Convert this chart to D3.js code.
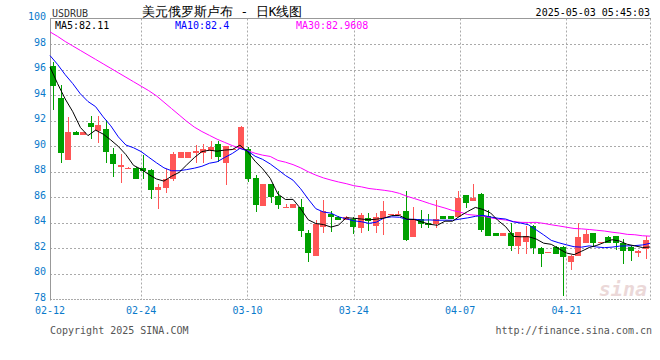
<!DOCTYPE html>
<html><head><meta charset="utf-8">
<script src="https://cdn.jsdelivr.net/npm/d3@7/dist/d3.min.js"></script>
<style>
html,body{margin:0;padding:0;background:#fff;}
svg{display:block;}
text{font-family:"DejaVu Sans Mono",monospace;}
</style></head>
<body>
<svg id="chart" width="660" height="360"></svg>
<script>
// ---------- data ----------
const startDate = "2025-02-12";
const nDays = 80;
const xTickLabels = ["02-12","02-24","03-10","03-24","04-07","04-21"];
const xTickIndex  = [0,12,26,40,54,68];
const yTicks = [78,80,82,84,86,88,90,92,94,96,98,100];

const open = [96.27,93.77,88.96,91.13,90.88,91.84,91.19,91.35,89.39,88.37,
88.30,88.32,88.32,88.14,86.58,86.73,87.41,89.10,89.10,89.47,
89.47,89.62,90.17,88.69,89.70,89.78,89.78,87.49,85.32,87.04,
86.10,85.20,85.19,85.22,83.19,81.44,83.71,84.72,84.49,84.23,
84.28,83.63,84.38,83.78,84.41,84.60,84.60,84.93,82.92,84.33,
84.00,83.94,84.54,84.54,84.49,86.18,85.72,86.26,84.50,83.19,
82.96,83.19,82.17,82.51,83.76,82.04,81.65,82.14,82.14,80.95,
81.42,82.43,83.20,82.41,82.90,82.98,82.46,82.14,81.67,81.99];
const high = [96.6,94.78,92.31,91.2,91.12,92.36,92.36,92.05,89.86,89.39,
88.36,88.35,89.31,88.2,87.04,88.22,89.57,89.55,89.55,90.09,
90.2,90.41,90.41,90.05,89.8,91.55,89.94,87.75,87.04,87.04,
86.47,85.45,85.5,85.85,83.45,84.23,85.8,84.91,84.52,84.5,
84.44,84.8,84.75,84.8,85.72,84.7,84.93,86.5,85.22,85.01,
84.68,85.79,84.56,84.56,86.5,86.2,87.04,86.3,85.0,83.2,
83.2,84.02,83.3,83.76,83.8,82.1,81.72,82.2,82.2,81.45,
83.97,83.45,83.22,82.5,82.95,83.0,82.74,82.2,81.9,82.98];
const low = [92.83,88.71,88.96,90.88,90.88,90.54,90.27,88.69,87.62,87.12,
88.28,87.46,87.46,85.87,85.09,86.34,87.3,89.10,89.10,88.71,
88.71,89.0,88.74,86.97,89.68,89.78,87.22,84.88,85.32,85.56,
85.09,85.2,85.19,82.92,80.9,81.44,83.21,83.32,84.2,84.2,
83.13,83.24,83.37,83.24,83.06,84.6,84.6,82.6,82.92,83.58,
83.63,83.58,84.28,84.28,84.49,85.14,85.7,83.27,82.95,82.95,
82.95,81.8,81.57,81.57,81.6,80.58,81.64,81.57,78.3,80.32,
81.42,82.43,82.2,82.4,82.43,81.88,80.77,81.05,81.36,81.16];
const close = [94.73,89.49,91.13,90.90,91.10,91.52,91.66,89.57,88.61,88.53,
88.32,87.46,88.06,86.58,86.79,87.44,89.39,89.55,89.55,89.62,
89.78,89.94,89.16,90.02,89.78,91.50,87.44,85.40,87.04,86.03,
85.40,85.27,85.48,83.39,81.67,83.92,84.91,84.44,84.23,84.49,
83.71,84.62,84.15,84.46,84.93,84.68,84.70,82.69,84.28,83.94,
83.82,84.33,84.28,84.28,85.97,85.58,85.95,83.45,82.95,82.96,
83.19,82.17,83.29,82.98,82.05,81.57,81.70,81.57,81.31,81.42,
82.90,83.13,82.43,82.49,82.43,82.43,81.83,81.83,81.83,82.69];
const ma5 = [96.2,94.9,93.7,92.7,91.47,90.83,91.26,90.95,90.49,89.98,
89.34,88.50,88.20,87.79,87.44,87.27,87.65,87.95,88.54,89.11,
89.58,89.69,89.61,89.70,89.74,90.08,89.58,88.83,88.23,87.48,
86.26,85.83,85.84,85.11,84.24,83.95,83.87,83.67,83.83,84.40,
84.36,84.30,84.24,84.29,84.37,84.57,84.58,84.29,84.26,84.06,
83.89,83.81,84.13,84.13,84.54,84.89,85.21,85.05,84.78,84.18,
83.70,82.94,82.91,82.92,82.74,82.41,82.32,81.97,81.64,81.51,
81.78,82.07,82.24,82.47,82.68,82.58,82.32,82.20,82.07,82.11];
const ma10 = [97.1,96.4,95.6,94.9,94.1,93.5,93.1,92.3,91.6,90.73,
90.09,89.88,89.58,89.14,88.71,88.31,88.08,88.08,88.17,88.28,
88.43,88.67,88.78,89.12,89.43,89.83,89.64,89.22,88.97,88.61,
88.17,87.71,87.34,86.67,85.86,85.11,84.85,84.76,84.47,84.32,
84.16,84.09,83.96,84.06,84.39,84.47,84.44,84.27,84.28,84.22,
84.23,84.20,84.21,84.20,84.30,84.39,84.51,84.59,84.46,84.36,
84.30,84.08,83.98,83.85,83.46,83.06,82.63,82.44,82.28,82.13,
82.10,82.20,82.11,82.06,82.10,82.18,82.20,82.22,82.27,82.40];
const ma30 = [98.95,98.6,98.2,97.85,97.5,97.15,96.8,96.45,96.1,95.75,
95.4,95.05,94.7,94.35,93.95,93.45,92.95,92.45,91.95,91.5,
91.15,90.85,90.55,90.3,90.05,89.85,89.65,89.45,89.3,89.20,
88.89,88.75,88.56,88.31,88.00,87.74,87.52,87.35,87.20,87.07,
86.91,86.82,86.69,86.62,86.55,86.46,86.31,86.08,85.90,85.71,
85.51,85.33,85.16,84.97,84.84,84.65,84.60,84.53,84.40,84.29,
84.22,84.11,84.04,84.03,84.04,83.96,83.85,83.76,83.66,83.56,
83.53,83.48,83.42,83.36,83.27,83.20,83.10,83.07,82.99,82.96];

const titleText = "美元俄罗斯卢布 - 日K线图";
const symbolText = "USDRUB";
const timeText = "2025-05-03 05:45:03";
const maLabels = ["MA5:82.11","MA10:82.4","MA30:82.9608"];

// ---------- layout ----------
const L = 50, R = 650, T = 18.5, B = 299.5;
const UP = "#ff5656", DOWN = "#00a000", AXIS_TXT = "#0a7acb", GRID = "#aaaaaa";

const svg = d3.select("#chart");
const idx = d3.range(nDays);
const day0 = new Date(startDate + "T00:00:00");
const dates = idx.map(i => d3.timeDay.offset(day0, i));

const xBand = d3.scaleBand().domain(idx).range([L, R]).padding(0);
const xPt = d3.scalePoint().domain(idx).range([L, R]);
const y = d3.scaleLinear().domain([78, 100]).range([B, T]);

// horizontal grid
svg.append("g").selectAll("line").data(yTicks.filter(v => v > 78 && v < 100)).join("line")
  .attr("x1", L).attr("x2", R).attr("y1", d => Math.round(y(d)) + 0.5).attr("y2", d => Math.round(y(d)) + 0.5)
  .attr("stroke", GRID).attr("stroke-dasharray", "2,2");
// vertical grid
svg.append("g").selectAll("line").data(xTickIndex.slice(1)).join("line")
  .attr("x1", d => Math.round(xPt(d)) + 0.5).attr("x2", d => Math.round(xPt(d)) + 0.5)
  .attr("y1", T).attr("y2", B)
  .attr("stroke", GRID).attr("stroke-dasharray", "2,2");
// right border dotted
svg.append("line").attr("x1", R + 0.5).attr("x2", R + 0.5).attr("y1", T).attr("y2", B)
  .attr("stroke", GRID).attr("stroke-dasharray", "2,2");
// top border, bottom, left axis
svg.append("line").attr("x1", L).attr("x2", R + 1).attr("y1", T).attr("y2", T).attr("stroke", "#999");
svg.append("line").attr("x1", L).attr("x2", R + 1).attr("y1", B).attr("y2", B).attr("stroke", "#aaa").attr("stroke-dasharray", "2,1");
svg.append("line").attr("x1", L + 0.5).attr("x2", L + 0.5).attr("y1", T).attr("y2", B + 1).attr("stroke", "#999");

// y labels
svg.append("g").selectAll("text").data(yTicks).join("text")
  .attr("x", 46).attr("y", d => y(d) + 1.5)
  .attr("text-anchor", "end").attr("font-size", 10).attr("fill", AXIS_TXT)
  .text(d => d);
// x labels
svg.append("g").selectAll("text").data(xTickIndex).join("text")
  .attr("x", d => xPt(d)).attr("y", 314)
  .attr("text-anchor", "middle").attr("font-size", 10).attr("fill", AXIS_TXT)
  .text((d, i) => xTickLabels[i]);

// watermark
svg.append("text").attr("x", 647).attr("y", 296).attr("text-anchor", "end")
  .attr("font-family", "DejaVu Sans").attr("font-style", "italic").attr("font-weight", "bold")
  .attr("font-size", 20).attr("fill", "#d9b3b3").attr("opacity", 0.5).text("sina");

// candles
const bw = 6;
const g = svg.append("g").attr("shape-rendering", "crispEdges");
idx.forEach(i => {
  const up = close[i] >= open[i];
  const col = up ? UP : DOWN;
  const x0 = Math.round(xBand(i));
  const cx = x0 + 3;
  g.append("rect").attr("x", cx - 0.5).attr("width", 1)
    .attr("y", y(high[i])).attr("height", Math.max(1, y(low[i]) - y(high[i])))
    .attr("fill", col);
  const top = y(Math.max(open[i], close[i])), bot = y(Math.min(open[i], close[i]));
  g.append("rect").attr("x", x0).attr("width", bw)
    .attr("y", top).attr("height", Math.max(1, bot - top))
    .attr("fill", col);
});

// MA lines
const line = d3.line().x((d, i) => xPt(i)).y(d => y(d));
[[ma30, "#ff00ff"], [ma10, "#0000ff"], [ma5, "#000000"]].forEach(([arr, c]) => {
  svg.append("path").datum(arr).attr("d", line).attr("fill", "none").attr("stroke", c).attr("stroke-width", 1);
});

// header
svg.append("text").attr("x", 52).attr("y", 17).attr("font-size", 10).attr("fill", "#333").text(symbolText);
svg.append("text").attr("x", 142).attr("y", 15.5).attr("font-family", "'Noto Sans CJK SC'")
  .attr("font-size", 12.6).attr("fill", "#000").text(titleText);
svg.append("text").attr("x", 650).attr("y", 16).attr("text-anchor", "end").attr("font-size", 10).attr("fill", "#000").text(timeText);
const maCols = ["#000000", "#0000ff", "#ff00ff"];
const maX = [55, 175, 296];
maLabels.forEach((t, i) => {
  svg.append("text").attr("x", maX[i]).attr("y", 28.5).attr("font-size", 10).attr("fill", maCols[i]).text(t);
});

// footer
svg.append("text").attr("x", 50).attr("y", 334).attr("font-size", 10).attr("fill", "#555").text("Copyright 2025 SINA.COM");
svg.append("text").attr("x", 652).attr("y", 334).attr("text-anchor", "end").attr("font-size", 10).attr("fill", "#555").text("http://finance.sina.com.cn");
</script>
</body></html>
